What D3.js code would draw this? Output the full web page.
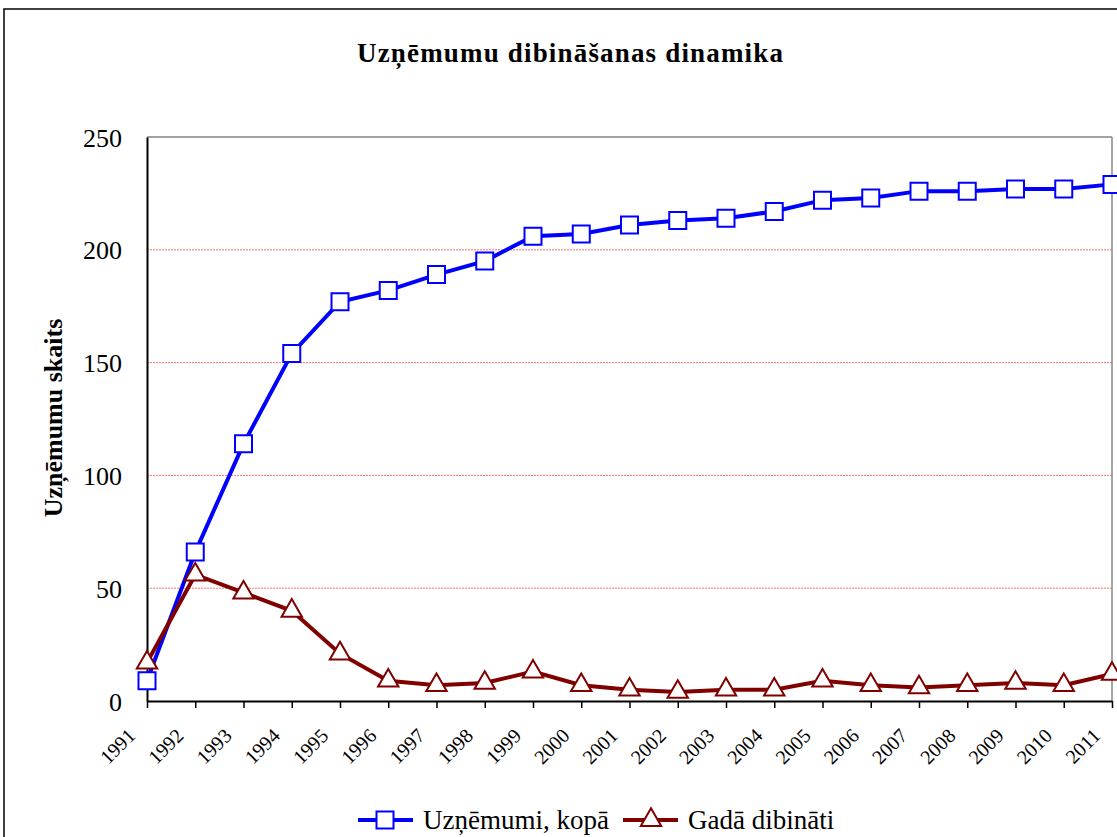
<!DOCTYPE html>
<html><head><meta charset="utf-8">
<script src="https://cdn.jsdelivr.net/npm/d3@7"></script>
<style>body{margin:0;background:#fff}svg{display:block}text{font-family:"Liberation Serif","Times New Roman",serif}</style>
</head><body>
<svg id="c" width="1117" height="837"></svg>
<script>
const years = ["1991","1992","1993","1994","1995","1996","1997","1998","1999","2000","2001","2002","2003","2004","2005","2006","2007","2008","2009","2010","2011"];
const totalCompanies = [9,66,114,154,177,182,189,195,206,207,211,213,214,217,222,223,226,226,227,227,229];
const foundedPerYear = [17,56,48,40,21,9,7,8,13,7,5,4,5,5,9,7,6,7,8,7,12];
const yTicks = [0,50,100,150,200,250];
const seriesNames = ["Uzņēmumi, kopā","Gadā dibināti"];
const titleText = "Uzņēmumu dibināšanas dinamika";
const yLabel = "Uzņēmumu skaits";

const svg = d3.select("#c");
svg.append("rect").attr("x",4).attr("y",9).attr("width",1130).attr("height",850)
  .attr("fill","#fff").attr("stroke","#000").attr("stroke-width",1.5);

const L=147,R=1112,T=137,B=701;
const x = d3.scalePoint().domain(years).range([L,R]);
const y = d3.scaleLinear().domain([0,250]).range([B,T]);

svg.append("text").attr("x",570).attr("y",62).attr("text-anchor","middle")
  .attr("font-size",27).attr("font-weight","bold")
  .attr("textLength",426).attr("lengthAdjust","spacing").text(titleText);

// grid
svg.append("g").selectAll("line").data(yTicks.filter(d=>d>0&&d<250)).join("line")
  .attr("x1",L).attr("x2",R).attr("y1",d=>y(d)).attr("y2",d=>y(d))
  .attr("stroke","#ff4040").attr("stroke-opacity",0.75).attr("stroke-width",1).attr("stroke-dasharray","2,1");
// top and right border
svg.append("line").attr("x1",L).attr("x2",R).attr("y1",T).attr("y2",T).attr("stroke","#8a8080").attr("stroke-width",1.5);
svg.append("line").attr("x1",R).attr("x2",R).attr("y1",T).attr("y2",B).attr("stroke","#888").attr("stroke-width",1.5);

// y axis
const ya = svg.append("g").attr("transform",`translate(${L},0)`)
  .call(d3.axisLeft(y).tickValues(yTicks).tickSize(0).tickPadding(25));
ya.select(".domain").attr("stroke","#000").attr("stroke-width",2);
ya.selectAll("text").attr("font-size",26).attr("font-family","Liberation Serif").attr("fill","#000").attr("dy","0.35em");

// x axis
const xa = svg.append("g").attr("transform",`translate(0,${B})`)
  .call(d3.axisBottom(x).tickSizeInner(7).tickSizeOuter(0).tickPadding(0));
xa.select(".domain").attr("stroke","#000").attr("stroke-width",2);
xa.selectAll(".tick line").attr("stroke","#000").attr("stroke-width",1.5);
xa.selectAll("text").attr("font-size",20).attr("font-family","Liberation Serif").attr("fill","#000")
  .attr("text-anchor","end").attr("dy",0).attr("x",0).attr("y",0)
  .attr("transform","translate(-11,36) rotate(-45)");

// y label
svg.append("text").attr("transform","translate(62,418) rotate(-90)").attr("text-anchor","middle")
  .attr("font-size",26).attr("font-weight","bold").text(yLabel);

const line = d3.line().x((d,i)=>x(years[i])).y(d=>y(d));
svg.append("path").datum(totalCompanies).attr("d",line).attr("fill","none").attr("stroke","#0000ff").attr("stroke-width",4);
svg.append("path").datum(foundedPerYear).attr("d",line).attr("fill","none").attr("stroke","#800000").attr("stroke-width",4);

const sq = d3.symbol().type(d3.symbolSquare).size(17*17);
const tri = d3.symbol().type(d3.symbolTriangle).size(180);
svg.append("g").selectAll("path").data(totalCompanies).join("path")
  .attr("d",sq).attr("transform",(d,i)=>`translate(${x(years[i])},${y(d)})`)
  .attr("fill","#fff").attr("stroke","#0000ff").attr("stroke-width",2);
svg.append("g").selectAll("path").data(foundedPerYear).join("path")
  .attr("d",tri).attr("transform",(d,i)=>`translate(${x(years[i])},${y(d)})`)
  .attr("fill","#fff").attr("stroke","#800000").attr("stroke-width",2);

// legend
const lg = svg.append("g");
lg.append("line").attr("x1",358).attr("x2",413).attr("y1",820).attr("y2",820).attr("stroke","#0000ff").attr("stroke-width",4);
lg.append("path").attr("d",sq).attr("transform","translate(385,820)").attr("fill","#fff").attr("stroke","#0000ff").attr("stroke-width",2);
lg.append("text").attr("x",423).attr("y",829).attr("font-size",27).text(seriesNames[0]);
lg.append("line").attr("x1",623).attr("x2",678).attr("y1",820).attr("y2",820).attr("stroke","#800000").attr("stroke-width",4);
lg.append("path").attr("d",tri).attr("transform","translate(651,820)").attr("fill","#fff").attr("stroke","#800000").attr("stroke-width",2);
lg.append("text").attr("x",688).attr("y",829).attr("font-size",27).text(seriesNames[1]);
</script>
</body></html>
